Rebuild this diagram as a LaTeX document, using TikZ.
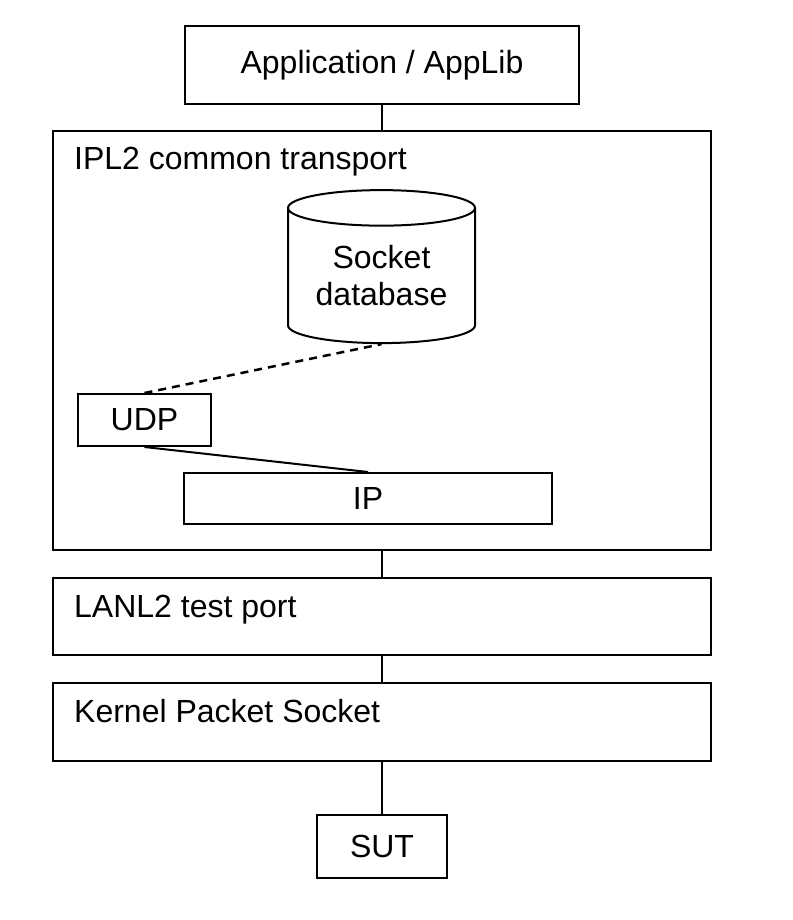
\documentclass[tikz,border=0pt]{standalone}
\usepackage{fontspec}
\setmainfont{Liberation Sans}
\usetikzlibrary{positioning}
\usetikzlibrary{shapes.geometric}
\tikzset {
  stack box/.style = {
    draw = black,
    line width = 2pt,
    rectangle,
    inner sep = 0,
    font = \fontsize{32}{37}\selectfont
  },
  % full width layer, its name sits in the top left corner
  layer/.style = {
    stack box,
    minimum width = 658pt
  },
  layer label/.style = {
    anchor = base west,
    inner sep = 0,
    font = \fontsize{32}{37}\selectfont
  },
  % the socket store
  store/.style = {
    stack box,
    cylinder,
    shape border rotate = 90,
    aspect = 0.27,
    align = center,
    minimum width = 187pt,
    minimum height = 153pt
  },
  link/.style = {
    draw = black,
    line width = 2pt
  },
  dlink/.style = {
    link,
    line width = 2.5pt,
    dash pattern = on 8pt off 6pt
  }
}

\begin{document}
\begin{tikzpicture}[x=1pt, y=-1pt]
    \useasboundingbox (0,0) rectangle (792,920);

    \node[layer, minimum height = 419pt] (ipl) at (382,340.5) {};
    \node[stack box, minimum width = 394pt, minimum height = 78pt] (app) [above=25pt of ipl] {Application / AppLib};
    \node[layer, minimum height = 77pt] (lanl) [below=26pt of ipl] {};
    \node[layer, minimum height = 78pt] (kernel) [below=26pt of lanl] {};
    \node[stack box, minimum width = 130pt, minimum height = 63pt] (sut) [below=52pt of kernel] {SUT};

    \node[layer label] (ipl name) at ([shift={(22,40)}]ipl.north west) {IPL2 common transport};
    \node[layer label] (lanl name) at ([shift={(22,40)}]lanl.north west) {LANL2 test port};
    \node[layer label] (kernel name) at ([shift={(22,40)}]kernel.north west) {Kernel Packet Socket};

    \node[store] (db) at (381.5,276) {Socket\\database};
    \node[stack box, minimum width = 133pt, minimum height = 52pt] (udp) at (144.5,420) {UDP};
    \node[stack box, minimum width = 368pt, minimum height = 51pt] (ip) at (368,498.5) {IP};

    \draw[link] (app) -- (ipl);
    \draw[link] (ipl) -- (lanl);
    \draw[link] (lanl) -- (kernel);
    \draw[link] (kernel) -- (sut);
    \draw[dlink] (udp.north) -- (db.south);
    \draw[link] (udp.south) -- (ip.north);
  \end{tikzpicture}
\end{document}
